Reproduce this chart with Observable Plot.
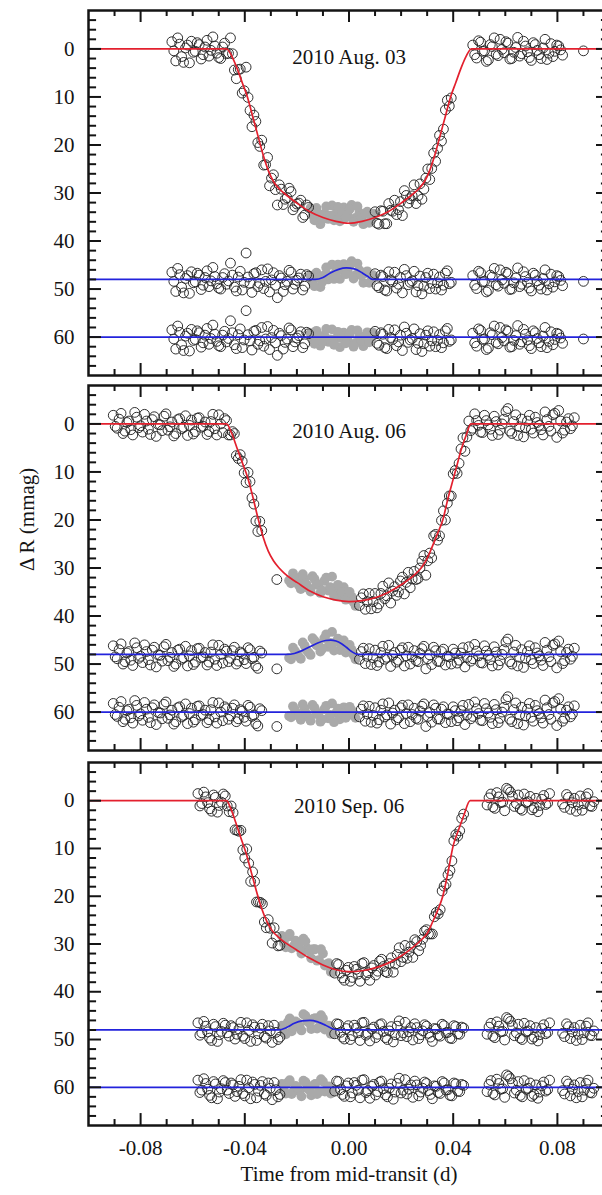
<!DOCTYPE html>
<html><head><meta charset="utf-8">
<script src="https://cdn.jsdelivr.net/npm/d3@7"></script>
<script src="https://cdn.jsdelivr.net/npm/@observablehq/plot@0.6"></script>
<style>
html,body{margin:0;padding:0;background:#fff;overflow:hidden;}
#chart{position:relative;width:602px;height:1195px;overflow:hidden;background:#fff;}
#chart svg{position:absolute;left:0;}
</style></head><body><div id="chart"></div>
<script>
// ---------- tick values / labels ----------
const xMajor = [-0.08, -0.04, 0, 0.04, 0.08];
const xMinor = [-0.09, -0.07, -0.06, -0.05, -0.03, -0.02, -0.01, 0.01, 0.02, 0.03, 0.05, 0.06, 0.07, 0.09];
const yMajor = [0, 10, 20, 30, 40, 50, 60];
const yMinor = [-6, -4, -2, 2, 4, 6, 8, 12, 14, 16, 18, 22, 24, 26, 28, 32, 34, 36, 38, 42, 44, 46, 48, 52, 54, 56, 58, 62, 64, 66];
const dates = ["2010 Aug. 03", "2010 Aug. 06", "2010 Sep. 06"];
const xTitle = "Time from mid-transit (d)";
const yTitle = "\u0394 R (mmag)";
const residualRows = [48, 60];

// ---------- Panel 1 (2010 Aug. 03) ----------
const p1OpenT = [-0.0680,-0.0665,-0.0650,-0.0635,-0.0620,-0.0605,-0.0590,-0.0575,-0.0560,-0.0545,-0.0530,-0.0515,-0.0500,-0.0485,-0.0470,-0.0455,-0.0440,-0.0425,-0.0410,-0.0395,-0.0380,-0.0365,-0.0350,-0.0335,-0.0320,-0.0305,-0.0290,-0.0275,-0.0260,-0.0245,-0.0230,-0.0215,-0.0200,-0.0185,-0.0170,-0.0155,
 0.0100,0.0115,0.0130,0.0145,0.0160,0.0175,0.0190,0.0205,0.0220,0.0235,0.0250,0.0265,0.0280,0.0295,0.0310,0.0325,0.0340,0.0355,0.0370,0.0385,
 0.0475,0.0490,0.0505,0.0520,0.0535,0.0550,0.0565,0.0580,0.0595,0.0610,0.0625,0.0640,0.0655,0.0670,0.0685,0.0700,0.0715,0.0730,0.0745,0.0760,0.0775,0.0790,0.0805,0.0820,
 0.0900,
 -0.06725,-0.06575,-0.06425,-0.06275,-0.06125,-0.05975,-0.05825,-0.05675,-0.05525,-0.05375,-0.05225,-0.05075,-0.04925,-0.04775,-0.04625,-0.04475,-0.04325,-0.04175,-0.04025,-0.03875,-0.03725,-0.03575,-0.03425,-0.03275,-0.03125,-0.02975,-0.02825,-0.02675,-0.02525,-0.02375,-0.02225,-0.02075,-0.01925,-0.01775,-0.01625,
 0.01075,0.01225,0.01375,0.01525,0.01675,0.01825,0.01975,0.02125,0.02275,0.02425,0.02575,0.02725,0.02875,0.03025,0.03175,0.03325,0.03475,0.03625,0.03775,0.03925,
 0.04825,0.04975,0.05125,0.05275,0.05425,0.05575,0.05725,0.05875,0.06025,0.06175,0.06325,0.06475,0.06625,0.06775,0.06925,0.07075,0.07225,0.07375,0.07525,0.07675,0.07825,0.07975,0.08125];
const p1OpenLc = [-1.5,2.5,-1.0,2.8,-0.8,-1.6,0.5,-0.9,1.2,-1.8,0.3,-0.6,1.8,-0.4,1.0,-2.3,4.4,4.3,9.2,3.8,12.8,13.8,19.5,19.0,24.1,28.5,26.2,32.5,29.2,31.3,29.0,33.5,32.3,31.5,34.6,33.0,
 33.9,36.5,33.8,36.4,33.6,31.5,33.5,34.7,30.5,31.2,28.3,30.6,31.3,26.9,27.2,21.7,20.7,19.2,12.7,11.9,
 -0.8,1.9,-1.4,0.4,2.3,-0.5,1.1,-2.0,0.8,-1.2,2.0,-0.3,1.5,-1.6,0.6,2.4,-0.9,1.2,-0.2,2.2,-1.1,0.5,-0.6,1.3,
 0.4,
 0.4,-2.3,1.6,-0.2,2.9,0.7,-1.3,2.1,-0.4,1.5,-2.5,0.9,2.0,-1.2,0.9,1.0,6.2,4.2,8.7,10.1,16.2,15.1,20.3,24.2,22.6,26.9,29.3,28.3,32.4,31.0,29.7,32.8,32.1,35.1,32.5,
 36.3,33.7,36.4,32.2,33.8,34.5,31.8,29.5,32.1,30.6,32.2,28.1,29.2,25.0,24.9,23.4,18.0,16.7,10.7,10.2,
 1.2,-1.7,0.5,2.6,-0.9,-2.3,1.4,0.1,-1.5,2.1,0.7,-2.4,1.0,-0.6,1.8,-1.3,0.3,2.0,-2.0,0.9,1.6,-0.8,0.2];
const p1OpenRes = [-1.5,2.5,-1.0,2.8,-0.8,-1.6,0.5,-0.9,1.2,-1.8,0.3,-0.6,1.8,-0.4,1.0,-3.4,1.6,-0.5,2.2,-5.5,0.8,-1.2,1.5,-2.0,0.4,2.6,-1.4,3.8,-0.3,1.1,-1.9,2.0,0.2,-1.1,1.4,-0.7,
 -1.2,1.7,-0.6,2.4,0.1,-1.5,1.0,2.8,-0.8,0.6,-1.7,1.3,3.0,-0.4,1.9,-1.1,0.7,2.2,-1.3,0.9,
 -0.8,1.9,-1.4,0.4,2.3,-0.5,1.1,-2.0,0.8,-1.2,2.0,-0.3,1.5,-1.6,0.6,2.4,-0.9,1.2,-0.2,2.2,-1.1,0.5,-0.6,1.3,
 0.4,
 0.4,-2.3,1.6,-0.2,2.9,0.7,-1.3,2.1,-0.4,1.5,-2.5,0.9,2.0,-1.2,0.3,-0.9,2.4,-1.7,0.6,-0.5,2.7,-1.4,0.8,1.9,-2.2,0.1,1.2,-0.8,2.5,0.4,-1.5,1.0,-0.3,2.2,-1.0,
 1.3,-0.9,2.2,-1.6,0.5,1.8,-0.4,-2.1,1.1,0.3,2.6,-0.7,1.4,-1.3,0.8,2.0,-0.5,1.2,-1.8,0.6,
 1.2,-1.7,0.5,2.6,-0.9,-2.3,1.4,0.1,-1.5,2.1,0.7,-2.4,1.0,-0.6,1.8,-1.3,0.3,2.0,-2.0,0.9,1.6,-0.8,0.2];
const p1GrayT = [-0.0140,-0.0125,-0.0110,-0.0095,-0.0080,-0.0065,-0.0050,-0.0035,-0.0020,-0.0005,0.0010,0.0025,0.0040,0.0055,0.0070,0.0085,
 -0.01475,-0.01325,-0.01175,-0.01025,-0.00875,-0.00725,-0.00575,-0.00425,-0.00275,-0.00125,0.00025,0.00175,0.00325,0.00475,0.00625,0.00775,0.00925];
const p1GrayLc = [34.7,33.1,36.5,34.3,35.4,32.6,34.3,35.9,33.0,34.6,32.5,35.2,34.1,36.5,33.9,35.7,
 33.1,35.7,34.3,35.5,32.8,34.7,35.7,32.9,34.1,35.1,33.4,36.0,32.8,35.1,34.4,36.2,34.3];
const p1GrayRow48 = [48.6,46.6,49.6,47.1,48.0,44.9,46.4,47.9,44.8,46.3,44.2,47.1,46.1,48.7,46.3,48.3,
 47.2,49.4,47.6,48.5,45.5,47.2,47.9,44.9,46.0,46.9,45.1,47.8,44.7,47.2,46.7,48.7,47.1];
const p1GrayRes = [0.6,-1.3,1.8,-0.4,1.0,-1.6,0.3,2.1,-0.9,0.7,-1.5,1.2,-0.2,1.9,-1.0,0.5,
 -0.8,1.4,-0.2,0.9,-1.7,0.5,1.6,-1.1,0.2,1.3,-0.6,2.0,-1.4,0.7,-0.3,1.1,-0.9];
const p1ModelT = [-0.1,-0.047,-0.045,-0.043,-0.041,-0.039,-0.037,-0.035,-0.033,-0.031,-0.029,-0.027,-0.025,-0.022,-0.020,-0.015,-0.010,-0.005,0,0.005,0.010,0.015,0.020,0.022,0.025,0.027,0.029,0.031,0.033,0.035,0.037,0.039,0.041,0.043,0.045,0.047,0.1];
const p1ModelV = [0,0,1.5,4,7,10,14,18,22,25.3,27.6,29,30,31.3,32.1,33.9,35.1,35.9,36.3,35.9,35.1,33.9,32.1,31.3,30,29,27.6,25.3,22,18,14,10,7,4,1.5,0,0];
const p1SpotT = [-0.1,-0.013,-0.010,-0.007,-0.004,-0.001,0.002,0.005,0.007,0.009,0.1];
const p1SpotV = [48,48,47.6,46.6,45.9,45.6,45.8,46.6,47.3,48,48];

// ---------- Panel 2 (2010 Aug. 06) ----------
const p2OpenT = [-0.0905,-0.0890,-0.0875,-0.0860,-0.0845,-0.0830,-0.0815,-0.0800,-0.0785,-0.0770,-0.0755,-0.0740,-0.0725,-0.0710,-0.0695,-0.0680,-0.0665,-0.0650,-0.0635,-0.0620,-0.0605,-0.0590,-0.0575,-0.0560,-0.0545,-0.0530,-0.0515,-0.0500,-0.0485,-0.0470,-0.0455,-0.0440,-0.0425,-0.0410,-0.0395,-0.0380,-0.0365,-0.0350,-0.0335,
 -0.0277,
 0.0040,0.0055,0.0070,0.0085,0.0100,0.0115,0.0130,0.0145,0.0160,0.0175,0.0190,0.0205,0.0220,0.0235,0.0250,0.0265,0.0280,0.0295,0.0310,0.0325,0.0340,0.0355,0.0370,0.0385,0.0400,0.0415,0.0430,0.0445,0.0460,
 0.0475,0.0490,0.0505,0.0520,0.0535,0.0550,0.0565,0.0580,0.0595,0.0610,0.0625,0.0640,0.0655,0.0670,0.0685,0.0700,0.0715,0.0730,0.0745,0.0760,0.0775,0.0790,0.0805,0.0820,0.0835,0.0850,0.0865,
 -0.08975,-0.08825,-0.08675,-0.08525,-0.08375,-0.08225,-0.08075,-0.07925,-0.07775,-0.07625,-0.07475,-0.07325,-0.07175,-0.07025,-0.06875,-0.06725,-0.06575,-0.06425,-0.06275,-0.06125,-0.05975,-0.05825,-0.05675,-0.05525,-0.05375,-0.05225,-0.05075,-0.04925,-0.04775,-0.04625,-0.04475,-0.04325,-0.04175,-0.04025,-0.03875,-0.03725,-0.03575,-0.03425,
 0.00475,0.00625,0.00775,0.00925,0.01075,0.01225,0.01375,0.01525,0.01675,0.01825,0.01975,0.02125,0.02275,0.02425,0.02575,0.02725,0.02875,0.03025,0.03175,0.03325,0.03475,0.03625,0.03775,0.03925,0.04075,0.04225,0.04375,0.04525,
 0.04675,0.04825,0.04975,0.05125,0.05275,0.05425,0.05575,0.05725,0.05875,0.06025,0.06175,0.06325,0.06475,0.06625,0.06775,0.06925,0.07075,0.07225,0.07375,0.07525,0.07675,0.07825,0.07975,0.08125,0.08275,0.08425,0.08575];
const p2OpenLc = [-1.8,0.9,-2.2,1.5,-0.6,2.3,-1.4,0.4,-2.0,1.1,-0.9,2.6,0.2,-1.6,1.3,-0.4,2.0,-1.1,0.7,2.4,-0.8,1.6,-1.3,0.5,2.2,-0.5,1.0,-1.9,1.8,-0.7,2.3,2.0,7.2,7.8,12.2,12.0,16.7,22.4,22.2,
 32.4,
 37.8,35.4,37.0,38.5,35.3,37.5,33.8,35.8,37.3,33.9,35.0,31.9,33.0,34.1,30.7,32.2,28.6,31.5,26.9,23.3,24.2,20.1,20.0,15.0,10.4,10.3,5.2,5.7,-0.6,
 0.9,-0.7,1.7,-1.8,0.2,2.4,-0.5,1.3,-1.0,-3.2,2.0,-1.9,0.6,2.7,-0.6,1.1,-1.4,0.3,2.3,-0.9,1.5,-2.2,-2.8,1.9,-0.4,1.0,-1.3,
 0.5,-1.0,2.0,-0.3,1.2,-2.4,0.8,1.7,-0.6,2.2,-1.5,0.1,1.4,-2.1,0.6,2.5,-0.9,1.0,-1.7,0.3,2.1,-1.2,0.7,-0.4,1.6,-2.0,2.3,0.0,-1.1,2.3,1.6,6.6,6.4,10.2,10.1,15.4,20.2,20.3,
 36.2,38.6,35.3,37.0,38.3,35.3,36.4,33.1,34.8,35.7,32.7,35.4,30.9,32.3,32.4,30.0,27.4,28.5,27.9,23.0,23.3,18.1,16.5,15.0,9.7,8.2,2.9,2.7,
 1.4,-2.1,0.3,1.8,-0.7,1.1,-1.6,2.2,0.0,-2.6,1.5,-0.5,2.4,-1.0,0.8,-1.8,1.9,-0.3,1.2,-2.5,0.5,-1.9,2.8,-0.6,1.3,-1.1,0.4];
const p2OpenRes = [-1.8,0.9,-2.2,1.5,-0.6,2.3,-1.4,0.4,-2.0,1.1,-0.9,2.6,0.2,-1.6,1.3,-0.4,2.0,-1.1,0.7,2.4,-0.8,1.6,-1.3,0.5,2.2,-0.5,1.0,-1.9,1.8,-0.7,0.8,-1.5,1.4,-0.2,1.9,-1.0,0.6,2.9,-0.3,
 3.0,
 1.0,-1.3,0.4,2.1,-0.9,1.6,-1.7,0.6,2.5,-0.4,1.2,-1.4,0.3,2.0,-0.8,1.5,-1.2,3.0,0.1,-1.5,1.4,-0.6,2.2,0.5,-1.1,1.8,-0.3,2.6,-1.6,
 0.9,-0.7,1.7,-1.8,0.2,2.4,-0.5,1.3,-1.0,-3.2,2.0,-1.9,0.6,2.7,-0.6,1.1,-1.4,0.3,2.3,-0.9,1.5,-2.2,-2.8,1.9,-0.4,1.0,-1.3,
 0.5,-1.0,2.0,-0.3,1.2,-2.4,0.8,1.7,-0.6,2.2,-1.5,0.1,1.4,-2.1,0.6,2.5,-0.9,1.0,-1.7,0.3,2.1,-1.2,0.7,-0.4,1.6,-2.0,2.3,0.0,-1.1,1.5,-0.8,2.0,-0.5,1.1,-1.4,0.9,2.4,-0.7,
 -0.6,1.9,-1.2,0.7,2.3,-0.4,1.0,-1.9,0.2,1.6,-0.9,2.4,-1.5,0.5,1.3,-0.2,-1.7,0.9,2.1,-0.8,1.5,-1.1,0.4,2.0,-0.3,1.2,-1.4,0.6,
 1.4,-2.1,0.3,1.8,-0.7,1.1,-1.6,2.2,0.0,-2.6,1.5,-0.5,2.4,-1.0,0.8,-1.8,1.9,-0.3,1.2,-2.5,0.5,-1.9,2.8,-0.6,1.3,-1.1,0.4];
const p2GrayT = [-0.0230,-0.0215,-0.0200,-0.0185,-0.0170,-0.0155,-0.0140,-0.0125,-0.0110,-0.0095,-0.0080,-0.0065,-0.0050,-0.0035,-0.0020,-0.0005,0.0010,0.0025,
 -0.02225,-0.02075,-0.01925,-0.01775,-0.01625,-0.01475,-0.01325,-0.01175,-0.01025,-0.00875,-0.00725,-0.00575,-0.00425,-0.00275,-0.00125,0.00025,0.00175];
const p2GrayLc = [32.6,31.1,32.9,34.4,32.3,34.2,31.7,33.5,35.2,32.7,34.7,31.8,34.1,35.9,34.0,36.4,36.0,37.9,
 33.2,32.0,33.6,31.3,33.5,34.9,32.3,33.4,34.7,32.0,34.0,35.8,33.5,35.0,36.6,35.0,37.1];
const p2GrayRow48 = [48.7,46.6,47.9,48.9,46.2,47.6,44.6,46.1,47.4,44.6,46.4,43.3,45.4,47.1,45.1,47.4,47.0,49.0,
 49.0,47.3,48.4,45.5,47.1,48.1,45.1,45.8,46.8,43.8,45.6,47.2,44.7,46.1,47.6,46.0,48.1];
const p2GrayRes = [0.8,-1.2,0.3,1.6,-0.7,1.1,-1.5,0.4,2.0,-0.6,1.3,-1.8,0.2,1.5,-1.0,0.7,-0.4,1.2,
 1.1,-0.5,0.9,-1.6,0.4,1.8,-0.9,0.2,1.5,-1.3,0.6,2.1,-0.7,0.3,1.2,-1.1,0.5];
const p2ModelT = [-0.1,-0.047,-0.045,-0.043,-0.041,-0.039,-0.037,-0.035,-0.033,-0.031,-0.029,-0.027,-0.025,-0.022,-0.020,-0.015,-0.010,-0.005,0,0.005,0.010,0.015,0.020,0.025,0.028,0.030,0.032,0.034,0.036,0.038,0.040,0.0415,0.043,0.045,0.0468,0.1];
const p2ModelV = [0,0,2,5,8,11,15,19.5,23.5,26.5,28.5,29.9,31,32.3,33,34.8,36,36.7,37,36.8,36.2,35.1,33.5,31.5,29.8,28,25.5,22.8,20,15.5,11.5,8.5,5.5,2.3,0,0];
const p2SpotT = [-0.1,-0.024,-0.021,-0.018,-0.015,-0.012,-0.009,-0.007,-0.005,-0.003,-0.001,0.001,0.0035,0.1];
const p2SpotV = [48,48,47.8,47.2,46.4,45.6,45.1,45.0,45.2,45.7,46.5,47.4,48,48];

// ---------- Panel 3 (2010 Sep. 06) ----------
const p3OpenT = [-0.0580,-0.0565,-0.0550,-0.0535,-0.0520,-0.0505,-0.0490,-0.0475,-0.0460,-0.0445,-0.0430,-0.0415,-0.0400,-0.0385,-0.0370,-0.0355,-0.0340,-0.0325,-0.0310,-0.0295,-0.0280,-0.0265,
 -0.0055,-0.0040,-0.0025,-0.0010,0.0005,0.0020,0.0035,0.0050,0.0065,0.0080,0.0095,0.0110,0.0125,0.0140,0.0155,0.0170,0.0185,0.0200,0.0215,0.0230,0.0245,0.0260,0.0275,0.0290,0.0305,0.0320,0.0335,0.0350,0.0365,0.0380,0.0395,0.0410,0.0425,0.0440,
 0.0530,0.0545,0.0560,0.0575,0.0590,0.0605,0.0620,0.0635,0.0650,0.0665,0.0680,0.0695,0.0710,0.0725,0.0740,0.0755,0.0770,
 0.0820,0.0835,0.0850,0.0865,0.0880,0.0895,0.0910,0.0925,0.0940,
 -0.05725,-0.05575,-0.05425,-0.05275,-0.05125,-0.04975,-0.04825,-0.04675,-0.04525,-0.04375,-0.04225,-0.04075,-0.03925,-0.03775,-0.03625,-0.03475,-0.03325,-0.03175,-0.03025,-0.02875,-0.02725,
 -0.00475,-0.00325,-0.00175,-0.00025,0.00125,0.00275,0.00425,0.00575,0.00725,0.00875,0.01025,0.01175,0.01325,0.01475,0.01625,0.01775,0.01925,0.02075,0.02225,0.02375,0.02525,0.02675,0.02825,0.02975,0.03125,0.03275,0.03425,0.03575,0.03725,0.03875,0.04025,0.04175,0.04325,
 0.05375,0.05525,0.05675,0.05825,0.05975,0.06125,0.06275,0.06425,0.06575,0.06725,0.06875,0.07025,0.07175,0.07325,0.07475,0.07625,
 0.08275,0.08425,0.08575,0.08725,0.08875,0.09025,0.09175,0.09325];
const p3OpenLc = [-1.5,0.6,-0.8,1.7,-1.2,2.4,0.3,-1.0,2.3,2.5,6.2,6.2,12.0,13.1,14.9,21.2,21.3,25.4,24.9,29.8,28.5,30.3,
 36.1,34.3,37.1,35.5,37.8,34.7,36.3,34.1,36.5,37.6,34.5,35.7,33.2,35.8,34.1,35.9,32.2,33.7,30.3,31.7,32.8,29.5,30.3,27.3,27.9,27.9,23.4,22.8,17.9,15.5,12.6,7.1,6.3,2.8,
 0.9,-1.4,1.6,-0.8,0.3,-2.6,-1.8,1.2,-1.2,2.0,0.4,-0.9,1.5,2.3,-0.3,0.8,-1.5,
 0.7,-1.3,1.8,-0.5,0.9,2.0,-0.8,1.1,0.2,
 1.1,-1.8,0.4,2.2,-0.7,1.0,-1.4,1.1,1.1,6.1,6.4,10.3,10.1,16.9,16.9,21.2,21.6,26.6,26.7,26.6,30.4,
 34.1,36.1,37.6,34.9,37.0,35.3,37.8,33.9,36.0,35.0,36.5,33.6,34.7,36.0,32.9,34.2,30.8,32.8,33.0,30.5,29.1,31.4,29.0,27.0,27.9,24.3,23.7,18.9,17.5,14.6,8.4,7.4,3.7,
 -0.6,1.3,-1.7,0.4,2.1,-2.3,-0.9,0.6,1.7,-1.4,0.2,1.9,-0.5,1.0,-1.1,0.5,
 1.4,-0.7,0.4,2.2,-1.0,0.6,-1.5,1.2];
const p3OpenRes = [-1.5,0.6,-0.8,1.7,-1.2,2.4,0.3,-1.0,1.3,-0.5,0.9,-1.6,1.8,0.1,-1.1,2.2,-0.4,1.4,-0.9,2.6,0.5,1.5,
 0.8,-1.2,1.5,-0.3,2.0,-1.0,0.6,-1.5,1.1,2.3,-0.6,0.9,-1.3,1.6,0.2,2.5,-0.8,1.2,-1.6,0.4,2.1,-0.5,1.0,-1.1,0.7,2.4,-0.2,1.3,-0.9,0.5,1.8,-0.7,0.9,-0.4,
 0.9,-1.4,1.6,-0.8,0.3,-2.6,-1.8,1.2,-1.2,2.0,0.4,-0.9,1.5,2.3,-0.3,0.8,-1.5,
 0.7,-1.3,1.8,-0.5,0.9,2.0,-0.8,1.1,0.2,
 1.1,-1.8,0.4,2.2,-0.7,1.0,-1.4,0.6,-0.9,1.9,-0.2,1.3,-1.5,2.4,-0.6,0.8,-1.2,1.7,0.2,-1.0,2.0,
 -1.3,0.5,1.9,-0.9,1.2,-0.4,2.2,-1.6,0.7,-0.2,1.6,-1.1,0.3,2.0,-0.7,1.0,-1.9,0.6,1.4,-0.5,-1.3,1.8,0.2,-0.8,1.5,-0.3,1.1,-1.2,0.6,1.7,-0.9,0.8,-0.6,
 -0.6,1.3,-1.7,0.4,2.1,-2.3,-0.9,0.6,1.7,-1.4,0.2,1.9,-0.5,1.0,-1.1,0.5,
 1.4,-0.7,0.4,2.2,-1.0,0.6,-1.5,1.2];
const p3GrayT = [-0.0250,-0.0235,-0.0220,-0.0205,-0.0190,-0.0175,-0.0160,-0.0145,-0.0130,-0.0115,-0.0100,-0.0085,-0.0070,
 -0.02575,-0.02425,-0.02275,-0.02125,-0.01975,-0.01825,-0.01675,-0.01525,-0.01375,-0.01225,-0.01075,-0.00925,-0.00775,-0.00625];
const p3GrayLc = [29.8,28.5,30.9,29.3,30.8,28.9,30.9,33.0,31.1,33.4,32.0,34.2,35.8,
 28.3,30.7,27.9,30.4,29.9,32.0,29.4,31.4,31.1,33.5,31.1,34.5,34.0,36.0];
const p3GrayRow48 = [48.3,46.4,48.3,46.2,47.2,44.7,46.2,47.8,45.5,47.4,45.6,47.5,48.8,
 47.1,48.9,45.6,47.5,46.5,48.1,45.0,46.5,45.7,47.7,44.9,47.9,47.1,48.8];
const p3GrayRes = [0.6,-1.0,1.4,-0.3,0.9,-1.4,0.2,1.7,-0.7,1.0,-1.2,0.4,1.3,
 -0.7,1.3,-1.5,0.8,0.1,1.9,-1.1,0.5,-0.4,1.4,-1.7,0.9,-0.2,1.0];
const p3ModelT = [-0.1,-0.047,-0.0455,-0.0435,-0.0415,-0.0395,-0.0375,-0.0355,-0.0335,-0.0315,-0.0295,-0.027,-0.025,-0.022,-0.020,-0.015,-0.010,-0.005,0,0.005,0.010,0.015,0.020,0.025,0.028,0.030,0.032,0.034,0.036,0.038,0.040,0.042,0.044,0.0465,0.1];
const p3ModelV = [0,0,1.5,4.5,7.8,11,15,19,22.6,25.3,27.2,28.6,29.5,30.6,31.3,33.0,34.4,35.4,35.8,35.6,35.0,34.0,32.5,30.5,29.0,27.8,25.5,23.0,20.0,15.0,9.4,6.2,3.2,0,0];
const p3SpotT = [-0.1,-0.027,-0.024,-0.021,-0.018,-0.015,-0.012,-0.009,-0.006,-0.004,0.1];
const p3SpotV = [48,48,47.5,46.6,46.1,46.0,46.3,47.0,47.8,48,48];

// ---------- drawing ----------
const RED = "#e3202e", BLUE = "#2323dc", INK = "#141414", GRAY = "#a9a9a9", CIRC = "#262626";
const FONT = "'Liberation Serif', 'Times New Roman', serif";
const FS = 21;
const xDomain = [-0.1, 0.1], yDomain = [-8, 68];

function panel(i, P, layout) {
  const open = P.openT.map((t, k) => ({t, lc: P.openLc[k], r48: residualRows[0] + P.openRes[k], r60: residualRows[1] + P.openRes[k]}));
  const gray = P.grayT.map((t, k) => ({t, lc: P.grayLc[k], r48: P.grayRow48[k], r60: residualRows[1] + P.grayRes[k]}));
  const model = P.modelT.map((t, k) => ({t, v: P.modelV[k]}));
  const spot = P.spotT.map((t, k) => ({t, v: P.spotV[k]}));
  const xLenMaj = 2.5, xLenMin = 1.25;       // tick length of x ticks, in y units
  const yLenMaj = 0.005, yLenMin = 0.0031;   // tick length of y ticks, in x units
  const tickStyle = {stroke: INK, strokeWidth: 2};
  const dotR = 4.9;
  const marks = [
    Plot.dot(gray, {x: "t", y: "lc", r: dotR, fill: GRAY, stroke: "none"}),
    Plot.dot(gray, {x: "t", y: "r48", r: dotR, fill: GRAY, stroke: "none"}),
    Plot.dot(gray, {x: "t", y: "r60", r: dotR, fill: GRAY, stroke: "none"}),
    Plot.dot(open, {x: "t", y: "lc", r: dotR, fill: "none", stroke: CIRC, strokeWidth: 0.95}),
    Plot.dot(open, {x: "t", y: "r48", r: dotR, fill: "none", stroke: CIRC, strokeWidth: 0.95}),
    Plot.dot(open, {x: "t", y: "r60", r: dotR, fill: "none", stroke: CIRC, strokeWidth: 0.95}),
    Plot.line(model, {x: "t", y: "v", stroke: RED, strokeWidth: 1.7, curve: "monotone-x"}),
    Plot.line(spot, {x: "t", y: "v", stroke: BLUE, strokeWidth: 1.7, curve: "monotone-x"}),
    Plot.ruleY([residualRows[1]], {y: d => d, stroke: BLUE, strokeWidth: 1.7}),
    Plot.ruleX(xMajor, {x: d => d, y1: yDomain[1], y2: yDomain[1] - xLenMaj, ...tickStyle}),
    Plot.ruleX(xMinor, {x: d => d, y1: yDomain[1], y2: yDomain[1] - xLenMin, ...tickStyle}),
    Plot.ruleX(xMajor, {x: d => d, y1: yDomain[0], y2: yDomain[0] + xLenMaj, ...tickStyle}),
    Plot.ruleX(xMinor, {x: d => d, y1: yDomain[0], y2: yDomain[0] + xLenMin, ...tickStyle}),
    Plot.ruleY(yMajor, {y: d => d, x1: xDomain[0], x2: xDomain[0] + yLenMaj, ...tickStyle}),
    Plot.ruleY(yMinor, {y: d => d, x1: xDomain[0], x2: xDomain[0] + yLenMin, ...tickStyle}),
    Plot.ruleY(yMajor, {y: d => d, x1: xDomain[1], x2: xDomain[1] - yLenMaj, ...tickStyle}),
    Plot.ruleY(yMinor, {y: d => d, x1: xDomain[1], x2: xDomain[1] - yLenMin, ...tickStyle}),
    Plot.frame({stroke: INK, strokeWidth: 2.5}),
    Plot.axisY(yMajor, {anchor: "left", tickSize: 0, tickPadding: 14, fontSize: FS, label: null, tickFormat: d => String(d), fill: INK}),
    Plot.text([dates[i]], {text: d => d, frameAnchor: "top", dy: layout.titleDy, fontSize: FS, fill: INK})
  ];
  if (layout.yLabel) marks.push(Plot.text([yTitle], {text: d => d, frameAnchor: "left", dx: -61, dy: 3, rotate: -90, fontSize: FS, fill: INK}));
  if (layout.xAxis) {
    marks.push(Plot.axisX(xMajor, {anchor: "bottom", tickSize: 0, tickPadding: 15, fontSize: FS, label: null, tickFormat: d => d.toFixed(2), fill: INK}));
    marks.push(Plot.text([xTitle], {text: d => d, frameAnchor: "bottom", dy: 55, fontSize: FS, fill: INK}));
  }
  const svg = Plot.plot({
    width: 640, height: layout.height,
    marginLeft: 88, marginRight: 31, marginTop: layout.mt, marginBottom: layout.mb,
    x: {domain: xDomain, axis: null},
    y: {domain: yDomain, reverse: true, axis: null},
    style: {fontFamily: FONT, fontSize: FS + "px", background: "transparent", maxWidth: "none", overflow: "visible", color: INK},
    marks
  });
  svg.style.top = layout.top + "px";
  return svg;
}

const chart = document.getElementById("chart");
const P1 = {openT: p1OpenT, openLc: p1OpenLc, openRes: p1OpenRes, grayT: p1GrayT, grayLc: p1GrayLc, grayRow48: p1GrayRow48, grayRes: p1GrayRes, modelT: p1ModelT, modelV: p1ModelV, spotT: p1SpotT, spotV: p1SpotV};
const P2 = {openT: p2OpenT, openLc: p2OpenLc, openRes: p2OpenRes, grayT: p2GrayT, grayLc: p2GrayLc, grayRow48: p2GrayRow48, grayRes: p2GrayRes, modelT: p2ModelT, modelV: p2ModelV, spotT: p2SpotT, spotV: p2SpotV};
const P3 = {openT: p3OpenT, openLc: p3OpenLc, openRes: p3OpenRes, grayT: p3GrayT, grayLc: p3GrayLc, grayRow48: p3GrayRow48, grayRes: p3GrayRes, modelT: p3ModelT, modelV: p3ModelV, spotT: p3SpotT, spotV: p3SpotV};
chart.appendChild(panel(0, P1, {top: 0, height: 377, mt: 10, mb: 2, titleDy: 39}));
chart.appendChild(panel(1, P2, {top: 375, height: 377, mt: 10, mb: 2, titleDy: 38, yLabel: true}));
chart.appendChild(panel(2, P3, {top: 750, height: 445, mt: 12, mb: 70, titleDy: 36, xAxis: true}));
</script></body></html>
